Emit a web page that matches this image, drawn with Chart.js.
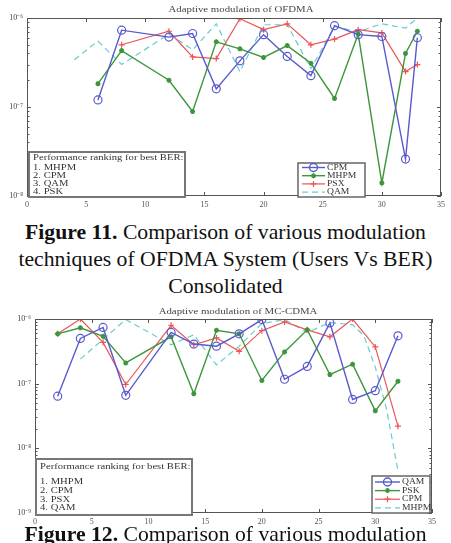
<!DOCTYPE html>
<html><head><meta charset="utf-8">
<script src="https://cdn.jsdelivr.net/npm/chart.js@4/dist/chart.umd.min.js"></script>
<style>
html,body{margin:0;padding:0;background:#fff;width:451px;height:543px;overflow:hidden;position:relative;}
#w1{position:absolute;left:0;top:0;width:451px;height:212px;}
#w2{position:absolute;left:0;top:300px;width:451px;height:232px;}
.cap{position:absolute;left:0;width:451px;text-align:center;font-family:"Liberation Serif","Times New Roman",serif;font-size:21.7px;color:#111;line-height:27px;white-space:nowrap;}
</style></head><body>
<div id="w1"><canvas id="c1"></canvas></div>
<div class="cap" style="top:218.5px"><b>Figure 11.</b> Comparison of various modulation<br>techniques of OFDMA System (Users Vs BER)<br>Consolidated</div>
<div id="w2"><canvas id="c2"></canvas></div>
<div class="cap" style="top:520.5px"><b>Figure 12.</b> Comparison of various modulation</div>
<script>
// ---------- data ----------
const xTickValues = [0,5,10,15,20,25,30,35];
const title1 = 'Adaptive modulation of OFDMA';
const title2 = 'Adaptive modulation of MC-CDMA';
const ranking1 = ['1. MHPM','2. CPM','3. QAM','4. PSK'];
const ranking2 = ['1. MHPM','2. CPM','3. PSX','4. QAM'];
const rankingHeader = 'Performance ranking for best BER:';

// Figure 11 (OFDMA)
const ofdmaUsersA = [6,8,12,14,16,18,20,22,24,26,28,30,32,33];
const ofdmaCPM  = [1.2e-7,7.3e-7,6.1e-7,6.7e-7,1.6e-7,3.3e-7,6.5e-7,3.7e-7,2.25e-7,8.2e-7,6.5e-7,6.2e-7,2.6e-8,6.0e-7];
const ofdmaMHPM = [1.83e-7,4.3e-7,2.0e-7,8.9e-8,5.4e-7,4.5e-7,3.6e-7,4.9e-7,3.1e-7,1.25e-7,6.6e-7,1.4e-8,4.0e-7,7.1e-7];
const ofdmaUsersP = [8,12,14,16,18,20,22,24,26,28,30,32,33];
const ofdmaPSX  = [5.0e-7,7.1e-7,3.65e-7,3.5e-7,9.8e-7,7.4e-7,8.6e-7,5.0e-7,5.8e-7,7.4e-7,6.8e-7,2.5e-7,3.0e-7];
const ofdmaUsersQ = [4,6,8,12,14,16,18,20,22,24,26,28,30,32,33];
const ofdmaQAM  = [3.4e-7,5.5e-7,3.0e-7,6.6e-7,4.4e-7,8.6e-7,2.5e-7,8.4e-7,8.4e-7,2.7e-7,8.0e-7,7.0e-7,8.6e-7,7.7e-7,1.0e-6];

// Figure 12 (MC-CDMA)
const mcUsers = [2,4,6,8,12,14,16,18,20,22,24,26,28,30,32];
const mcQAM = [6.4e-8,5.0e-7,7.4e-7,6.6e-8,6.2e-7,4.1e-7,3.8e-7,5.9e-7,9.8e-7,1.17e-7,1.85e-7,8.7e-7,5.7e-8,7.8e-8,5.5e-7];
const mcPSK = [5.9e-7,7.3e-7,5.4e-7,2.09e-7,5.3e-7,7.0e-8,6.7e-7,5.9e-7,1.12e-7,3.1e-7,6.8e-7,1.38e-7,2.0e-7,3.8e-8,1.09e-7];
const mcCPM = [5.9e-7,1.0e-6,4.35e-7,9.7e-8,8.0e-7,4.0e-7,5.1e-7,3.16e-7,6.6e-7,9.0e-7,6.8e-7,5.3e-7,1.0e-6,3.7e-7,2.2e-8];
const mcUsersM = [4,8,12,14,16,18,20,22,24,26,28,29,30,31,32];
const mcMHPM = [2.4e-7,9.8e-7,4.0e-7,5.7e-7,1.95e-7,3.8e-7,8.5e-7,9.8e-7,6.2e-7,8.8e-7,8.2e-7,5.5e-7,1.8e-7,4.0e-8,4.5e-9];

// ---------- styles ----------
const SERIF = '"Liberation Serif","Times New Roman",serif';
const sty = {
  blue:  {borderColor:'rgb(90,90,205)', pointStyle:'circle', pointRadius:4, borderWidth:1.4, pointBorderWidth:1.2, pointBackgroundColor:'rgba(255,255,255,0)'},
  green: {borderColor:'rgb(60,150,60)', pointStyle:'star', pointRadius:2.5, borderWidth:1.4, pointBorderWidth:1.5, pointBackgroundColor:'rgb(60,150,60)'},
  red:   {borderColor:'rgb(235,85,85)', pointStyle:'cross', pointRadius:3, borderWidth:1.2, pointBorderWidth:1.2, pointBackgroundColor:'rgb(235,85,85)'},
  cyan:  {borderColor:'rgb(105,205,205)', pointStyle:false, pointRadius:0, borderWidth:1.2, borderDash:[6,4]}
};
function pts(xs, ys){ return xs.map((x,i)=>({x:x, y:ys[i]})); }
function ds(label, xs, ys, s){
  return Object.assign({label:label, data:pts(xs,ys), tension:0, fill:false, pointBorderColor:s.borderColor}, s);
}
const SUP = {'-':'\u207B','0':'\u2070','1':'\u00B9','2':'\u00B2','3':'\u00B3','4':'\u2074','5':'\u2075','6':'\u2076','7':'\u2077','8':'\u2078','9':'\u2079'};
function logLabel(v){
  const e = Math.log10(v);
  if (Math.abs(e-Math.round(e))<1e-6) return '10' + String(Math.round(e)).split('').map(c=>SUP[c]).join('');
  return '';
}
function sText(ctx, txt, x, y, size, align, sx, color){
  ctx.save();
  ctx.translate(x,y); ctx.scale(sx,1);
  ctx.font = size+'px '+SERIF;
  ctx.fillStyle = color || '#333';
  ctx.textAlign = align; ctx.textBaseline = 'middle';
  ctx.fillText(txt,0,0);
  ctx.restore();
}

const decorPlugin = {
  id:'decor',
  afterDraw(chart){
    const o = chart.options.plugins.decor;
    const {ctx, chartArea:a} = chart;
    const xs = chart.scales.x, ys = chart.scales.y;
    ctx.save();
    // frame
    ctx.strokeStyle = '#555'; ctx.lineWidth = 1;
    ctx.strokeRect(Math.round(a.left)+0.5, Math.round(a.top)+0.5, Math.round(a.right-a.left)-1, Math.round(a.bottom-a.top)-1);
    ctx.beginPath();
    for (const v of xTickValues){
      const px = Math.round(xs.getPixelForValue(v))+0.5;
      ctx.moveTo(px,a.bottom); ctx.lineTo(px,a.bottom-4);
      ctx.moveTo(px,a.top); ctx.lineTo(px,a.top+4);
    }
    const e0 = Math.round(Math.log10(ys.min)), e1 = Math.round(Math.log10(ys.max));
    for (let e=e0; e<=e1; e++){
      for (let m=1; m<=9; m++){
        const v = m*Math.pow(10,e);
        if (v>ys.max*1.0001) break;
        const py = Math.round(ys.getPixelForValue(v))+0.5;
        const L = m===1 ? 4 : 2.5;
        ctx.moveTo(a.left,py); ctx.lineTo(a.left+L,py);
        ctx.moveTo(a.right,py); ctx.lineTo(a.right-L,py);
      }
    }
    ctx.stroke();
    // title
    sText(ctx, o.title, o.titleX, o.titleY, 9, 'center', 1.2, '#444');
    // ranking box
    const r = o.rank;
    ctx.fillStyle = '#fff';
    ctx.fillRect(r.x0, r.y0, r.x1-r.x0, r.y1-r.y0);
    ctx.strokeStyle = '#777'; ctx.lineWidth = 2;
    ctx.strokeRect(r.x0, r.y0, r.x1-r.x0, r.y1-r.y0);
    sText(ctx, rankingHeader, r.x0+4, r.hy, 8.5, 'left', 1.25, '#333');
    o.rankLines.forEach((t,i)=> sText(ctx, t, r.x0+4, r.iy+i*r.step, 8.5, 'left', 1.25, '#333'));
    // legend
    const g = o.legend;
    ctx.fillStyle = '#fff';
    ctx.fillRect(g.x0, g.y0, g.x1-g.x0, g.y1-g.y0);
    ctx.strokeStyle = '#666'; ctx.lineWidth = 1.5;
    ctx.strokeRect(g.x0, g.y0, g.x1-g.x0, g.y1-g.y0);
    chart.data.datasets.forEach((d,i)=>{
      const y = g.iy + i*g.step;
      ctx.save();
      ctx.strokeStyle = d.borderColor; ctx.lineWidth = d.borderWidth;
      ctx.setLineDash(d.borderDash || []);
      ctx.beginPath(); ctx.moveTo(g.lx0,y); ctx.lineTo(g.lx1,y); ctx.stroke();
      ctx.setLineDash([]);
      if (d.pointStyle){
        ctx.fillStyle = d.pointBackgroundColor; ctx.strokeStyle = d.borderColor;
        Chart.helpers.drawPoint(ctx, {pointStyle:d.pointStyle, radius:d.pointRadius, borderWidth:d.pointBorderWidth, rotation:0}, (g.lx0+g.lx1)/2, y);
      }
      ctx.restore();
      sText(ctx, d.label, g.tx, y, 8, 'left', 1.2, '#333');
    });
    ctx.restore();
  }
};

function makeChart(id, datasets, yMin, yAxisW, xAxisH, pad, decor){
  return new Chart(document.getElementById(id), {
    type:'line',
    data:{datasets:datasets},
    options:{
      responsive:true, maintainAspectRatio:false, animation:false,
      layout:{padding:pad},
      plugins:{legend:{display:false}, title:{display:false}, tooltip:{enabled:false}, decor:decor},
      scales:{
        x:{type:'linear', min:0, max:35,
           grid:{display:false, drawTicks:false}, border:{display:false},
           afterBuildTicks:(s)=>{ s.ticks = xTickValues.map(v=>({value:v})); },
           afterFit:(s)=>{ s.height = xAxisH; },
           ticks:{font:{family:SERIF, size:8}, color:'#555', padding:4, maxRotation:0, autoSkip:false}},
        y:{type:'logarithmic', min:yMin, max:1e-6,
           grid:{display:false, drawTicks:false}, border:{display:false},
           afterFit:(s)=>{ s.width = yAxisW; },
           ticks:{font:{family:SERIF, size:8}, color:'#444', padding:4, autoSkip:false, callback:(v)=>logLabel(v)}}
      }
    },
    plugins:[decorPlugin]
  });
}

makeChart('c1', [
  ds('CPM', ofdmaUsersA, ofdmaCPM, sty.blue),
  ds('MHPM', ofdmaUsersA, ofdmaMHPM, sty.green),
  ds('PSX', ofdmaUsersP, ofdmaPSX, sty.red),
  ds('QAM', ofdmaUsersQ, ofdmaQAM, sty.cyan)
], 1e-8, 27, 16, {top:18, right:10, left:0, bottom:0}, {
  title:title1, titleX:241, titleY:10, rankLines:ranking1,
  rank:{x0:29, y0:152, x1:185, y1:197, hy:157.5, iy:168, step:8},
  legend:{x0:298, y0:163, x1:365, y1:197, iy:167.5, step:8.2, lx0:302, lx1:325, tx:327}
});

makeChart('c2', [
  ds('QAM', mcUsers, mcQAM, sty.blue),
  ds('PSK', mcUsers, mcPSK, sty.green),
  ds('CPM', mcUsers, mcCPM, sty.red),
  ds('MHPM', mcUsersM, mcMHPM, sty.cyan)
], 1e-9, 35, 19, {top:19, right:19, left:0, bottom:0}, {
  title:title2, titleX:238, titleY:12, rankLines:ranking2,
  rank:{x0:36, y0:159, x1:192, y1:215, hy:167, iy:182, step:8.7},
  legend:{x0:372, y0:176, x1:430, y1:213, iy:182, step:8.6, lx0:375, lx1:400, tx:402}
});
</script>
</body></html>
